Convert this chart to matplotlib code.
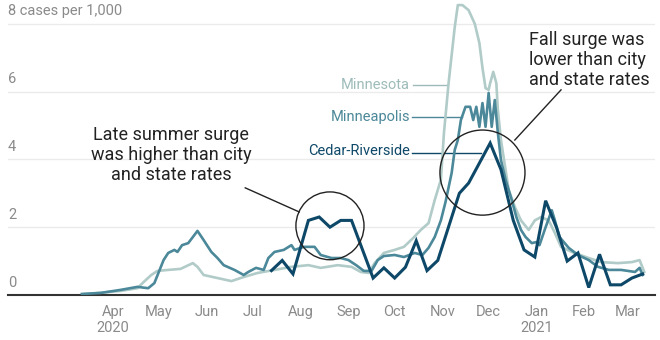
import pandas as pd
import matplotlib
matplotlib.use('Agg')
import matplotlib.pyplot as plt
import matplotlib.dates as mdates
from matplotlib.patches import Ellipse

plt.rcParams['font.family'] = ['Roboto', 'DejaVu Sans']

# Minnesota, 7-day average cases per 1,000
mnDates = ['2020-03-26', '2020-04-20', '2020-05-01', '2020-05-05', '2020-05-10', '2020-05-14',
           '2020-05-21', '2020-05-29', '2020-06-06', '2020-06-09', '2020-06-13', '2020-06-22',
           '2020-07-01', '2020-07-09', '2020-07-18', '2020-07-29', '2020-08-09', '2020-08-20',
           '2020-08-28', '2020-09-08', '2020-09-17', '2020-09-23', '2020-09-28', '2020-10-02',
           '2020-10-08', '2020-10-15', '2020-10-21', '2020-10-27', '2020-11-01', '2020-11-06',
           '2020-11-10', '2020-11-14', '2020-11-16', '2020-11-19', '2020-11-23', '2020-11-25',
           '2020-11-28', '2020-12-02', '2020-12-06', '2020-12-09', '2020-12-11', '2020-12-13',
           '2020-12-15', '2020-12-16', '2020-12-18', '2020-12-20', '2020-12-21', '2020-12-23',
           '2020-12-28', '2021-01-01', '2021-01-05', '2021-01-10', '2021-01-14', '2021-01-18',
           '2021-01-23', '2021-01-27', '2021-01-31', '2021-02-07', '2021-02-18', '2021-02-26',
           '2021-03-09', '2021-03-18', '2021-03-23', '2021-03-26']
mnValues = [0.02, 0.12, 0.2, 0.38, 0.59, 0.71,
            0.74, 0.77, 0.94, 0.83, 0.59, 0.5,
            0.41, 0.53, 0.65, 0.74, 0.83, 0.88,
            0.8, 0.88, 0.83, 0.68, 0.65, 0.94,
            1.24, 1.33, 1.42, 1.68, 1.92, 2.12,
            2.8, 3.4, 4.78, 6.25, 7.9, 8.55,
            8.55, 8.4, 8.0, 7.43, 6.7, 6.1,
            6.05, 6.25, 6.58, 6.25, 5.46, 4.57,
            3.1, 2.6, 2.2, 1.92, 2.2, 2.3,
            2.2, 1.83, 1.42, 1.27, 1.09, 0.97,
            0.94, 0.97, 1.03, 0.68]

# Minneapolis
mplsDates = ['2020-03-26', '2020-04-07', '2020-04-20', '2020-05-01', '2020-05-08', '2020-05-12',
             '2020-05-18', '2020-05-21', '2020-05-25', '2020-05-27', '2020-05-30', '2020-06-03',
             '2020-06-09', '2020-06-13', '2020-06-18', '2020-06-22', '2020-06-26', '2020-07-03',
             '2020-07-09', '2020-07-12', '2020-07-17', '2020-07-22', '2020-07-25', '2020-07-29',
             '2020-08-04', '2020-08-09', '2020-08-11', '2020-08-17', '2020-08-24', '2020-08-28',
             '2020-09-04', '2020-09-10', '2020-09-15', '2020-09-20', '2020-09-25', '2020-09-30',
             '2020-10-04', '2020-10-08', '2020-10-15', '2020-10-21', '2020-10-28', '2020-11-02',
             '2020-11-06', '2020-11-10', '2020-11-14', '2020-11-17', '2020-11-21', '2020-11-23',
             '2020-11-25', '2020-11-27', '2020-11-30', '2020-12-03', '2020-12-05', '2020-12-07',
             '2020-12-09', '2020-12-11', '2020-12-13', '2020-12-15', '2020-12-17', '2020-12-19',
             '2020-12-21', '2020-12-23', '2020-12-26', '2020-12-30', '2021-01-02', '2021-01-05',
             '2021-01-08', '2021-01-12', '2021-01-15', '2021-01-17', '2021-01-21', '2021-01-25',
             '2021-01-27', '2021-01-30', '2021-02-05', '2021-02-11', '2021-02-18', '2021-02-24',
             '2021-03-03', '2021-03-11', '2021-03-20', '2021-03-23', '2021-03-25']
mplsValues = [0.03, 0.06, 0.15, 0.24, 0.2, 0.35,
              1.03, 1.24, 1.33, 1.27, 1.47, 1.53,
              1.89, 1.62, 1.27, 1.09, 0.88, 0.74,
              0.59, 0.68, 0.8, 0.74, 1.09, 1.27,
              1.33, 1.47, 1.33, 1.42, 1.42, 1.18,
              1.09, 1.09, 1.03, 0.88, 0.71, 0.71,
              1.03, 1.15, 1.18, 1.12, 1.24, 1.18,
              1.39, 1.71, 2.2, 2.74, 3.6, 4.28,
              4.57, 5.16, 5.55, 5.55, 5.16, 5.55,
              4.96, 5.66, 4.96, 5.96, 4.96, 5.75,
              4.78, 3.98, 3.4, 2.8, 2.3, 1.92,
              1.71, 1.53, 1.56, 1.47, 2.0, 2.5,
              2.2, 1.71, 1.39, 1.18, 1.03, 0.83,
              0.74, 0.74, 0.68, 0.8, 0.59]

# Cedar-Riverside, weekly
crDates = ['2020-07-27', '2020-08-03', '2020-08-10', '2020-08-20', '2020-08-27', '2020-09-03',
           '2020-09-10', '2020-09-17', '2020-10-01', '2020-10-08', '2020-10-15', '2020-10-22',
           '2020-10-29', '2020-11-05', '2020-11-12', '2020-11-26', '2020-12-02', '2020-12-16',
           '2020-12-23', '2020-12-31', '2021-01-07', '2021-01-14', '2021-01-21', '2021-01-28',
           '2021-02-04', '2021-02-11', '2021-02-18', '2021-02-25', '2021-03-04', '2021-03-11',
           '2021-03-18', '2021-03-25']
crValues = [0.72, 1.02, 0.62, 2.2, 2.3, 2.0,
            2.2, 2.2, 0.5, 0.8, 0.5, 0.82,
            1.6, 0.72, 1.02, 3.0, 3.3, 4.48,
            3.7, 2.2, 1.33, 1.12, 2.78, 2.0,
            1.0, 1.24, 0.22, 1.2, 0.3, 0.3,
            0.5, 0.62]

monthTicks = ['2020-04-15', '2020-05-15', '2020-06-15', '2020-07-15', '2020-08-15', '2020-09-15',
              '2020-10-15', '2020-11-15', '2020-12-15', '2021-01-15', '2021-02-15', '2021-03-15']
monthLabels = ['Apr\n2020', 'May', 'Jun', 'Jul', 'Aug', 'Sep', 'Oct', 'Nov', 'Dec', 'Jan\n2021', 'Feb', 'Mar']

cMN = '#b0cbc8'
cMPLS = '#4b8899'
cCR = '#0e4868'
ink = '#222222'
gray = '#8a8a8a'

d = pd.to_datetime


def dn(s):
    return mdates.date2num(pd.Timestamp(s))


fig = plt.figure(figsize=(6.6, 3.4), dpi=100)
ax = fig.add_axes([8 / 660, 45 / 340, 647 / 660, 295 / 340])
ax.set_xlim(d('2020-02-07'), d('2021-04-02'))
ax.set_ylim(0, 8.7)

for s in ['top', 'right', 'left']:
    ax.spines[s].set_visible(False)
ax.spines['bottom'].set_color('#333333')
ax.spines['bottom'].set_linewidth(1.5)
ax.set_yticks([])

for g in [2, 4, 6, 8]:
    ax.axhline(g, color='#ebebeb', lw=1, zorder=0)
for g in [0, 2, 4, 6]:
    ax.text(0, g + 0.16, str(g), transform=ax.get_yaxis_transform(), fontsize=10.5,
            color=gray, va='bottom', ha='left')
ax.text(0, 8.16, '8 cases per 1,000', transform=ax.get_yaxis_transform(), fontsize=10.5,
        color=gray, va='bottom', ha='left')

ax.set_xticks(d(monthTicks))
ax.set_xticklabels(monthLabels, fontsize=10.5, color=gray, linespacing=1.25)
ax.tick_params(axis='x', length=0, pad=7)

ax.plot(d(mnDates), mnValues, color=cMN, lw=1.9, zorder=2, solid_joinstyle='round')
ax.plot(d(mplsDates), mplsValues, color=cMPLS, lw=1.9, zorder=3, solid_joinstyle='round')
ax.plot(d(crDates), crValues, color=cCR, lw=2.2, zorder=4, solid_joinstyle='miter')

# series labels
ax.text(d('2020-10-25'), 6.19, 'Minnesota', color='#9dbcb9', fontsize=10.5, ha='right', va='center')
ax.plot(d(['2020-10-27', '2020-11-18']), [6.19, 6.19], color='#9dbcb9', lw=1, zorder=1)
ax.text(d('2020-10-25'), 5.25, 'Minneapolis', color=cMPLS, fontsize=10.5, ha='right', va='center')
ax.plot(d(['2020-10-26', '2020-11-28']), [5.25, 5.25], color=cMPLS, lw=1, zorder=1)
ax.text(d('2020-10-25'), 4.24, 'Cedar-Riverside', color=cCR, fontsize=10.5, ha='right', va='center')
ax.plot(d(['2020-10-26', '2020-12-10']), [4.2, 4.2], color=cCR, lw=1, zorder=1)

# circles
ax.add_patch(Ellipse((dn('2020-09-03'), 2.04), width=44.2, height=2.0,
                     fill=False, ec=ink, lw=1, zorder=5))
ax.add_patch(Ellipse((dn('2020-12-11'), 3.61), width=55.2, height=2.51,
                     fill=False, ec=ink, lw=1, zorder=5))

ax.text(d('2020-05-23'), 4.12, 'Late summer surge\nwas higher than city\nand state rates',
        fontsize=13, color=ink, ha='center', va='center', multialignment='center', linespacing=1.15)
ax.plot(d(['2020-07-10', '2020-08-14']), [3.16, 2.45], color=ink, lw=1, zorder=5)

ax.text(d('2021-01-10'), 6.93, 'Fall surge was\nlower than city\nand state rates',
        fontsize=13, color=ink, ha='left', va='center', multialignment='left', linespacing=1.15)
ax.plot(d(['2021-01-31', '2021-01-01']), [6.05, 4.57], color=ink, lw=1, zorder=5)

fig.savefig('out.png', dpi=100)
